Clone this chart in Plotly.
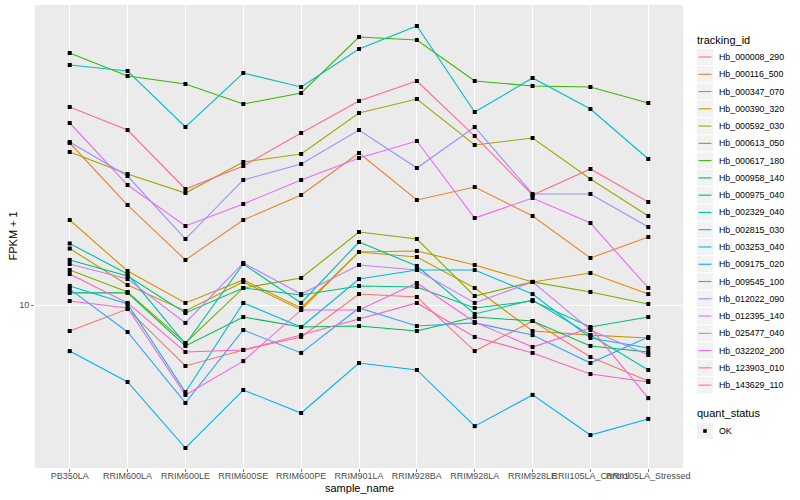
import plotly.graph_objects as go

samples = ["PB350LA", "RRIM600LA", "RRIM600LE", "RRIM600SE", "RRIM600PE", "RRIM901LA",
           "RRIM928BA", "RRIM928LA", "RRIM928LE", "RRII105LA_Control", "RRII105LA_Stressed"]

tracking_ids = ["Hb_000008_290", "Hb_000116_500", "Hb_000347_070", "Hb_000390_320", "Hb_000592_030",
                "Hb_000613_050", "Hb_000617_180", "Hb_000958_140", "Hb_000975_040", "Hb_002329_040",
                "Hb_002815_030", "Hb_003253_040", "Hb_009175_020", "Hb_009545_100", "Hb_012022_090",
                "Hb_012395_140", "Hb_025477_040", "Hb_032202_200", "Hb_123903_010", "Hb_143629_110"]

colors = ["#F8766D", "#EA8331", "#D89000", "#C09B00", "#A3A500", "#7CAE00", "#39B600", "#00BB4E",
          "#00BF7D", "#00C1A3", "#00BFC4", "#00BAE0", "#00B0F6", "#35A2FF", "#9590FF", "#C77CFF",
          "#E76BF3", "#FA62DB", "#FF62BC", "#FF6C91"]

quant_status = ["OK"]

# FPKM + 1 values per sample (order of `samples`)
hb_000008_290 = [8.61, 9.77, 7.04, 7.72, 8.32, 10.65, 10.47, 7.67, 9.12, 7.41, 6.46]
hb_000116_500 = [25.41, 17.78, 12.96, 16.31, 18.84, 23.99, 18.30, 19.72, 16.69, 13.11, 14.79]
hb_000347_070 = [16.31, 12.16, 10.12, 11.55, 9.83, 13.57, 13.65, 12.59, 11.42, 12.02, 10.65]
hb_000390_320 = [13.84, 11.22, 9.66, 11.42, 9.72, 13.57, 13.18, 11.03, 8.61, 8.41, 8.27]
hb_000592_030 = [24.13, 21.26, 19.05, 22.78, 23.85, 30.20, 32.73, 25.12, 26.15, 20.65, 16.69]
hb_000613_050 = [12.23, 10.78, 8.04, 11.03, 11.68, 15.22, 14.62, 10.53, 11.42, 10.78, 10.06]
hb_000617_180 = [42.66, 37.37, 35.69, 31.81, 33.88, 46.77, 45.97, 36.31, 35.28, 35.08, 31.99]
hb_000958_140 = [10.72, 10.72, 7.90, 9.33, 8.81, 8.86, 8.61, 9.33, 9.12, 7.90, 7.63]
hb_000975_040 = [12.96, 11.82, 9.55, 11.03, 10.59, 11.16, 11.09, 9.83, 10.23, 8.81, 9.33]
hb_002329_040 = [14.25, 11.95, 7.99, 12.66, 10.12, 14.37, 12.52, 9.50, 10.29, 8.41, 6.88]
hb_002815_030 = [39.81, 38.46, 27.86, 38.02, 35.08, 43.65, 49.83, 30.37, 36.94, 30.90, 23.17]
hb_003253_040 = [11.16, 10.06, 6.06, 10.12, 8.81, 11.61, 12.23, 12.23, 10.65, 8.27, 7.81]
hb_009175_020 = [7.67, 6.42, 4.39, 6.13, 5.37, 7.16, 6.88, 4.98, 5.96, 4.73, 5.19]
hb_009545_100 = [10.96, 8.56, 5.69, 8.66, 7.59, 9.83, 8.86, 9.02, 8.41, 7.16, 8.32]
hb_012022_090 = [25.56, 21.01, 14.62, 20.54, 22.52, 27.38, 22.00, 27.86, 18.95, 18.95, 15.67]
hb_012395_140 = [12.66, 11.61, 9.02, 12.74, 10.65, 12.59, 12.23, 10.12, 11.42, 8.66, 7.50]
hb_025477_040 = [28.51, 19.95, 15.76, 17.89, 20.54, 23.31, 25.70, 16.50, 18.51, 16.03, 11.03]
hb_032202_200 = [10.23, 9.83, 5.96, 7.24, 9.72, 9.72, 11.35, 9.07, 7.85, 8.76, 5.85]
hb_123903_010 = [11.95, 10.12, 7.63, 7.72, 8.41, 9.23, 10.12, 8.32, 7.59, 6.72, 6.42]
hb_143629_110 = [31.26, 27.38, 19.50, 22.26, 26.92, 32.36, 36.31, 26.45, 18.84, 21.88, 18.09]

series = [hb_000008_290, hb_000116_500, hb_000347_070, hb_000390_320, hb_000592_030,
          hb_000613_050, hb_000617_180, hb_000958_140, hb_000975_040, hb_002329_040,
          hb_002815_030, hb_003253_040, hb_009175_020, hb_009545_100, hb_012022_090,
          hb_012395_140, hb_025477_040, hb_032202_200, hb_123903_010, hb_143629_110]

W, H = 800, 500
ML, MR, MT, MB = 35, 117, 5, 32
PW, PH = W - ML - MR, H - MT - MB


def px(xp):
    return (xp - ML) / PW


def py(yp):
    return (H - MB - yp) / PH


fig = go.Figure()
for name, col, vals in zip(tracking_ids, colors, series):
    fig.add_trace(go.Scatter(x=samples, y=vals, mode="lines", name=name,
                             line=dict(color=col, width=1.1)))

all_x = [s for _ in series for s in samples]
all_y = [v for vals in series for v in vals]
fig.add_trace(go.Scatter(x=all_x, y=all_y, mode="markers", name=quant_status[0],
                         marker=dict(symbol="square", size=4, color="black")))

font_main = "Liberation Sans, Arial, sans-serif"

shapes = []
annotations = []

# legend: tracking_id
key_l, key_r = 697, 713
text_x = 717
title_y = 40
first_y = 57
step = 17.27
annotations.append(dict(x=px(695), y=py(title_y), xref="paper", yref="paper", text="tracking_id",
                        showarrow=False, xanchor="left", yanchor="middle",
                        font=dict(size=11, color="black", family=font_main)))
for i, (name, col) in enumerate(zip(tracking_ids, colors)):
    yc = first_y + step * i
    shapes.append(dict(type="rect", xref="paper", yref="paper",
                       x0=px(key_l), x1=px(key_r), y0=py(yc - 8.1), y1=py(yc + 8.1),
                       fillcolor="#F2F2F2", line=dict(width=0), layer="above"))
    shapes.append(dict(type="line", xref="paper", yref="paper",
                       x0=px(key_l + 1.5), x1=px(key_r - 1.5), y0=py(yc), y1=py(yc),
                       line=dict(color=col, width=1.1), layer="above"))
    annotations.append(dict(x=px(text_x), y=py(yc), xref="paper", yref="paper", text=name,
                            showarrow=False, xanchor="left", yanchor="middle",
                            font=dict(size=8.8, color="black", family=font_main)))

# legend: quant_status
qs_title_y = 413
qs_y = 431
annotations.append(dict(x=px(695), y=py(qs_title_y), xref="paper", yref="paper", text="quant_status",
                        showarrow=False, xanchor="left", yanchor="middle",
                        font=dict(size=11, color="black", family=font_main)))
shapes.append(dict(type="rect", xref="paper", yref="paper",
                   x0=px(key_l), x1=px(key_r), y0=py(qs_y - 8.1), y1=py(qs_y + 8.1),
                   fillcolor="#F2F2F2", line=dict(width=0), layer="above"))
shapes.append(dict(type="rect", xref="paper", yref="paper",
                   x0=px(703.2), x1=px(706.8), y0=py(qs_y - 1.8), y1=py(qs_y + 1.8),
                   fillcolor="black", line=dict(width=0), layer="above"))
annotations.append(dict(x=px(text_x), y=py(qs_y), xref="paper", yref="paper", text=quant_status[0],
                        showarrow=False, xanchor="left", yanchor="middle",
                        font=dict(size=8.8, color="black", family=font_main)))

# axis titles
annotations.append(dict(x=0.5, y=py(488), xref="paper", yref="paper", text="sample_name",
                        showarrow=False, xanchor="center", yanchor="middle",
                        font=dict(size=11, color="black", family=font_main)))
annotations.append(dict(x=px(12), y=0.5, xref="paper", yref="paper", text="FPKM + 1",
                        showarrow=False, xanchor="center", yanchor="middle", textangle=-90,
                        font=dict(size=11, color="black", family=font_main)))

fig.update_layout(
    width=W, height=H,
    margin=dict(l=ML, r=MR, t=MT, b=MB),
    paper_bgcolor="white",
    plot_bgcolor="#EBEBEB",
    font=dict(family=font_main, color="black", size=10),
    showlegend=False,
    xaxis=dict(type="category", categoryorder="array", categoryarray=samples,
               range=[-0.6, 10.6], showgrid=True, gridcolor="white", gridwidth=1,
               zeroline=False, showline=False, ticks="outside", ticklen=3,
               tickcolor="#7F7F7F", tickfont=dict(family=font_main, size=9, color="#4D4D4D"),
               tickangle=0, automargin=False, ticklabelstandoff=-4),
    yaxis=dict(type="log", range=[0.5925, 1.75], tickvals=[10], ticktext=["10"],
               showgrid=True, gridcolor="white", gridwidth=1, zeroline=False, showline=False,
               ticks="outside", ticklen=3, tickcolor="#7F7F7F",
               tickfont=dict(family=font_main, size=9, color="#4D4D4D"), automargin=False),
    shapes=shapes,
    annotations=annotations,
)

fig.write_html("out.html", config={"displayModeBar": False},
               post_script="document.body.style.margin='0px';document.body.style.overflow='hidden';")
